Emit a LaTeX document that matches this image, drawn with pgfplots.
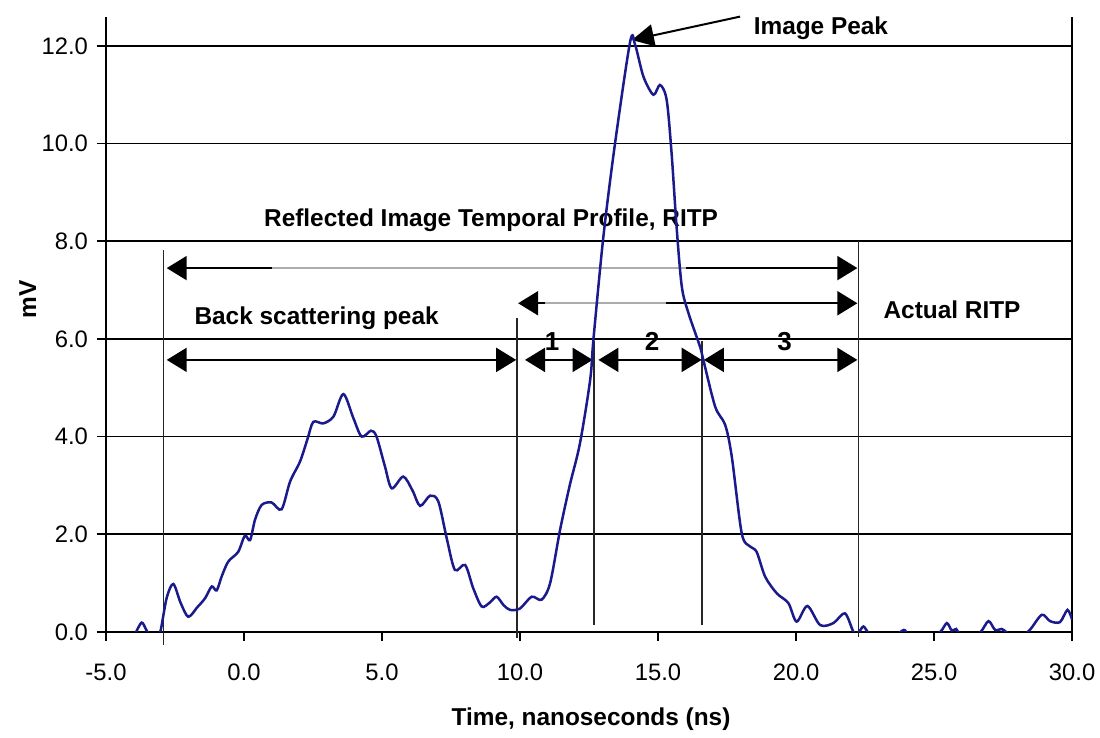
\documentclass[border=0pt]{standalone}
\usepackage{fontspec}
\setmainfont{Liberation Sans}
\usepackage{pgfplots}
\usepackage{pgfplotstable}
\pgfplotsset{compat=1.18}
\usetikzlibrary{arrows.meta}

\definecolor{trace}{RGB}{26,26,140}
\newcommand\lbl{\fontsize{12.2}{14.6}\selectfont\bfseries}

% Detector signal (mV) against time (ns); values below zero fall outside the plot window
\pgfplotstableread{
t      mv
-3.95  -0.05
-3.71   0.19
-3.53   0.03
-3.35  -0.12
-3.15  -0.10
-3.02   0.03
-2.80   0.70
-2.56   0.98
-2.30   0.60
-2.02   0.31
-1.70   0.50
-1.41   0.69
-1.17   0.93
-0.99   0.85
-0.80   1.15
-0.57   1.44
-0.21   1.64
 0.03   1.97
 0.22   1.88
 0.40   2.30
 0.64   2.60
 1.00   2.65
 1.36   2.51
 1.67   3.08
 2.03   3.49
 2.30   3.95
 2.51   4.30
 2.87   4.27
 3.24   4.41
 3.60   4.87
 3.96   4.38
 4.26   4.00
 4.60   4.12
 4.80   4.00
 5.10   3.40
 5.35   2.94
 5.77   3.18
 6.10   2.90
 6.38   2.58
 6.74   2.79
 7.04   2.67
 7.35   1.90
 7.64   1.27
 8.01   1.37
 8.30   0.90
 8.61   0.52
 8.90   0.60
 9.15   0.72
 9.40   0.55
 9.64   0.45
10.00   0.48
10.42   0.72
10.78   0.66
11.09   1.00
11.45   2.09
11.80   3.00
12.17   3.86
12.54   5.16
12.66   6.00
13.02   8.10
13.44  10.00
13.99  12.09
14.17  12.02
14.47  11.37
14.83  11.00
15.07  11.20
15.31  10.90
15.49   9.80
15.67   8.30
15.86   7.07
16.10   6.53
16.52   5.84
16.64   5.57
17.07   4.61
17.43   4.24
17.67   3.59
18.03   2.02
18.33   1.75
18.57   1.64
18.88   1.13
19.30   0.79
19.72   0.59
20.02   0.21
20.41   0.53
20.87   0.14
21.35   0.18
21.77   0.38
22.08   0.00
22.26  -0.01
22.44   0.11
22.62  -0.02
22.90  -0.15
23.50  -0.15
23.83   0.02
23.95   0.03
24.10  -0.10
24.70  -0.15
25.22   0.00
25.46   0.18
25.64   0.03
25.80   0.06
25.88  -0.01
26.20  -0.15
26.67  -0.01
26.97   0.22
27.21   0.04
27.45   0.06
27.63  -0.01
28.00  -0.15
28.45   0.03
28.90   0.35
29.20   0.22
29.56   0.20
29.83   0.45
30.00   0.25
}\signal

\begin{document}
\begin{tikzpicture}
\begin{axis}[
  scale only axis,
  width=483pt, height=307.6pt,
  xmin=-5, xmax=30, ymin=0, ymax=12.6,
  axis x line*=bottom, axis y line*=left,
  axis line style={black, line width=0.9pt, -},
  xtick={-5,0,...,30}, ytick={0,2,...,12},
  tick align=outside, major tick length=4.5pt,
  tick style={black, line width=0.9pt},
  ymajorgrids, grid style={black, line width=0.9pt},
  ticklabel style={font=\fontsize{11.9}{14}\selectfont},
  xticklabel style={yshift=-8pt},
  yticklabel style={xshift=-1pt},
  /pgf/number format/fixed,
  /pgf/number format/fixed zerofill,
  /pgf/number format/precision=1,
  /pgf/number format/assume math mode=true,
  xlabel={Time, nanoseconds (ns)},
  ylabel={mV},
  xlabel style={at={(rel axis cs:0.502,-0.142)}, anchor=center, font=\lbl},
  ylabel style={at={(rel axis cs:-0.081,0.54)}, anchor=center, font=\lbl},
  clip mode=individual,
]
% right border of the plot area
\draw[black, line width=0.9pt] (axis cs:30,0) -- (axis cs:30,12.6);

% segment boundaries
\draw[black!85, line width=0.6pt] (axis cs:-2.93,7.82) -- (axis cs:-2.93,-0.27);
\draw[black!85, line width=0.6pt] (axis cs:9.89,6.43)  -- (axis cs:9.89,-0.12);
\draw[black!85, line width=0.6pt] (axis cs:12.68,5.95) -- (axis cs:12.68,0.14);
\draw[black!85, line width=0.6pt] (axis cs:16.59,5.95) -- (axis cs:16.59,0.14);
\draw[black!85, line width=0.6pt] (axis cs:22.25,8.0)  -- (axis cs:22.25,-0.1);

% span arrows
\tikzset{span/.style={black, line width=1pt,
  {Triangle[length=10pt,width=12pt]}-{Triangle[length=10pt,width=12pt]}}}
\draw[span] (axis cs:-2.80,7.45) -- (axis cs:22.22,7.45);
\draw[gray!65, line width=1pt] (axis cs:1.0,7.45) -- (axis cs:16.0,7.45);
\draw[span] (axis cs:9.93,6.73) -- (axis cs:22.22,6.73);
\draw[gray!65, line width=1pt] (axis cs:10.9,6.73) -- (axis cs:15.3,6.73);
\draw[span] (axis cs:-2.80,5.57) -- (axis cs:9.86,5.57);
\draw[span] (axis cs:10.18,5.57) -- (axis cs:12.63,5.57);
\draw[span] (axis cs:12.84,5.57) -- (axis cs:16.58,5.57);
\draw[span] (axis cs:16.66,5.57) -- (axis cs:22.22,5.57);

% labels
\node[font=\lbl] at (axis cs:8.95,8.44) {Reflected Image Temporal Profile, RITP};
\node[font=\lbl] at (axis cs:2.63,6.42) {Back scattering peak};
\node[font=\lbl] at (axis cs:25.65,6.60) {Actual RITP};
\node[font=\fontsize{13}{15}\selectfont\bfseries] at (axis cs:11.16,5.95) {1};
\node[font=\fontsize{13}{15}\selectfont\bfseries] at (axis cs:14.78,5.95) {2};
\node[font=\fontsize{13}{15}\selectfont\bfseries] at (axis cs:19.58,5.95) {3};
\node[font=\lbl, anchor=base] at (axis cs:20.9,12.23) {Image Peak};
\draw[black, line width=1pt, -{Triangle[length=11pt,width=11pt]}]
  (axis cs:17.97,12.6) -- (axis cs:14.05,12.12);

% signal trace
\addplot[trace, line width=1.25pt, smooth, tension=0.5] table[x=t, y=mv] {\signal};

\coordinate (bbl) at (axis cs:-8.84,-2.17);
\coordinate (bbr) at (axis cs:31.01,12.94);
\end{axis}
\pgfresetboundingbox
\path[use as bounding box] (bbl) rectangle (bbr);
\end{tikzpicture}
\end{document}
